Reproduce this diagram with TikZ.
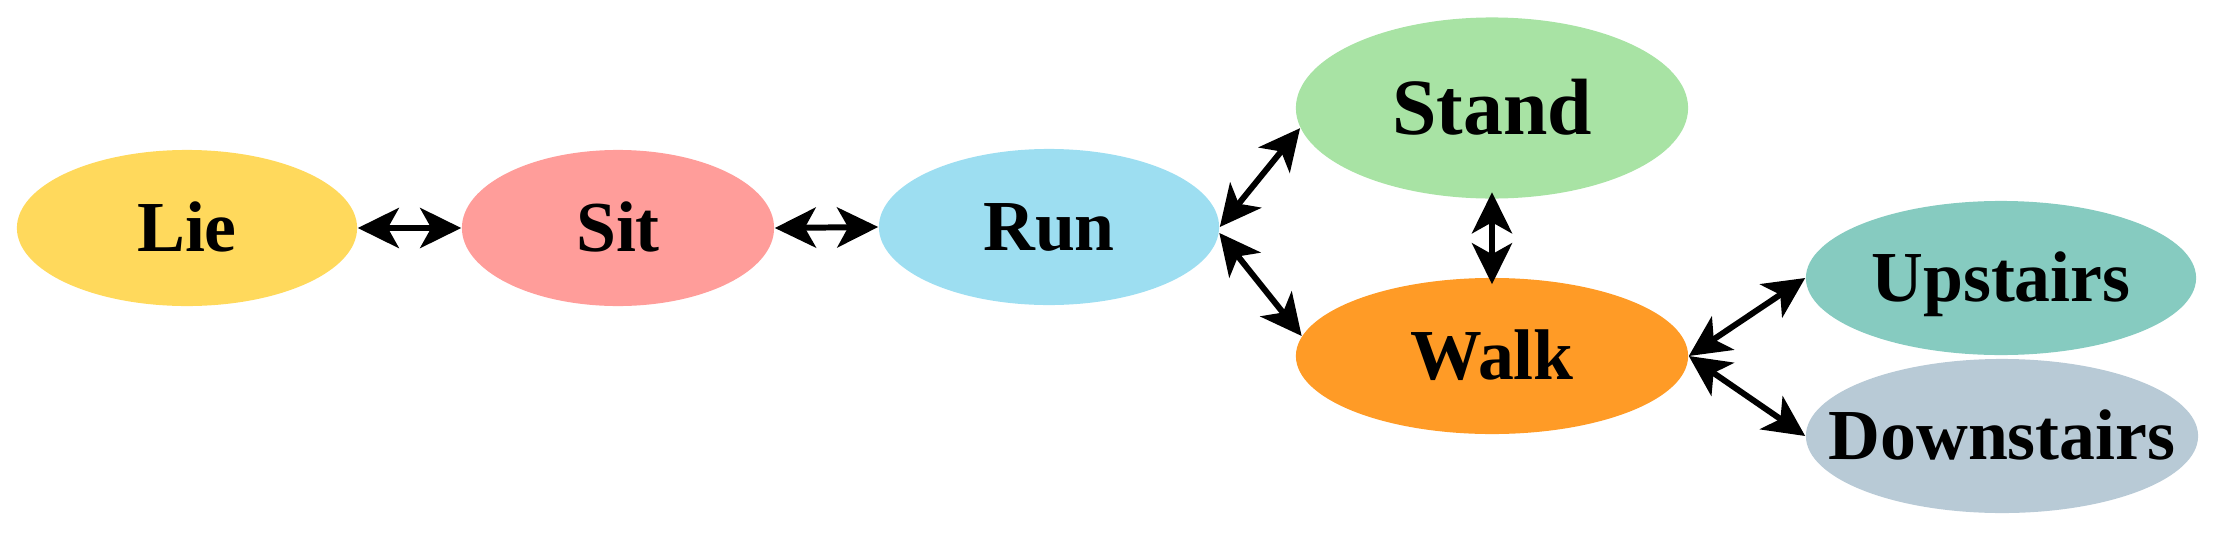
\documentclass[tikz,border=0pt]{standalone}
\usepackage{fontspec}
\setmainfont{Liberation Serif}
\usetikzlibrary{shapes.geometric,arrows.meta}
\definecolor{clie}{HTML}{FFD95C}
\definecolor{csit}{HTML}{FF9D9A}
\definecolor{crun}{HTML}{9DDEF1}
\definecolor{cstand}{HTML}{A8E3A4}
\definecolor{cwalk}{HTML}{FF9B26}
\definecolor{cup}{HTML}{86CBC0}
\definecolor{cdown}{HTML}{B8CAD6}
\newcommand{\lbl}[1]{\makebox[0pt][c]{#1}}
\begin{document}
\begin{tikzpicture}[x=0.01cm,y=-0.01cm,
  state/.style={ellipse, inner sep=0pt, draw=none,
    font=\fontsize{20.4}{24}\selectfont\bfseries, text height=13.5pt, text depth=0pt},
  bigstate/.style={state, font=\fontsize{22.7}{27}\selectfont\bfseries, text height=15pt},
  tipshape/.tip={Stealth[length=0.41cm,width=0.40cm,inset=0.11cm]},
  link/.style={line width=1.7pt, tipshape-tipshape}]
\useasboundingbox (0,0) rectangle (2223,536);
\node[state, fill=clie, minimum width=3.40cm, minimum height=1.56cm] (lie) at (187,228) {\lbl{Lie}};
\node[state, fill=csit, minimum width=3.12cm, minimum height=1.56cm] (sit) at (618,228) {\lbl{Sit}};
\node[state, fill=crun, minimum width=3.40cm, minimum height=1.56cm] (run) at (1049,227) {\lbl{Run}};
\node[bigstate, fill=cstand, minimum width=3.92cm, minimum height=1.81cm] (stand) at (1492,108) {\lbl{Stand}};
\node[state, fill=cwalk, minimum width=3.92cm, minimum height=1.56cm] (walk) at (1492,356) {\lbl{Walk}};
\node[state, fill=cup, minimum width=3.90cm, minimum height=1.54cm] (up) at (2001,278) {\lbl{Upstairs}};
\node[state, fill=cdown, minimum width=3.92cm, minimum height=1.54cm] (down) at (2002,436) {\lbl{Downstairs}};
\draw[link] (lie.east) -- (sit.west);
\draw[link] (sit.east) -- (run.west);
\draw[link] (run.east) -- (stand.186);
\draw[link] (run.-2) -- (walk.174);
\draw[link, shorten <=-0.07cm, shorten >=-0.07cm] (stand.south) -- (walk.north);
\draw[link] (walk.east) -- (up.west);
\draw[link] (walk.east) -- (down.west);
\end{tikzpicture}
\end{document}
